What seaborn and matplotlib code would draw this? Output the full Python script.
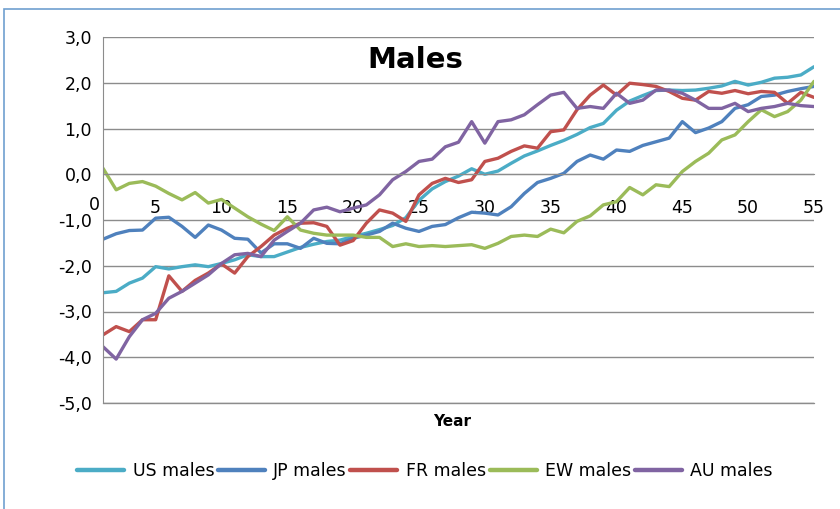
import numpy as np
import pandas as pd
import matplotlib
matplotlib.use("Agg")
import matplotlib.pyplot as plt
import seaborn as sns
from matplotlib.patches import Rectangle

# data
years = list(range(1, 56))
us_males = [-2.59, -2.56, -2.38, -2.27, -2.02, -2.07, -2.02, -1.98, -2.02, -1.95,
            -1.87, -1.76, -1.80, -1.80, -1.70, -1.60, -1.53, -1.47, -1.44, -1.36,
            -1.29, -1.21, -1.12, -0.95, -0.57, -0.32, -0.16, -0.04, 0.12, 0.00,
            0.07, 0.24, 0.40, 0.51, 0.63, 0.74, 0.87, 1.02, 1.11, 1.40,
            1.60, 1.72, 1.83, 1.84, 1.83, 1.84, 1.88, 1.93, 2.03, 1.95,
            2.01, 2.10, 2.12, 2.17, 2.35]
jp_males = [-1.42, -1.30, -1.23, -1.22, -0.96, -0.94, -1.14, -1.38, -1.11, -1.22,
            -1.40, -1.42, -1.72, -1.52, -1.52, -1.62, -1.40, -1.51, -1.52, -1.40,
            -1.33, -1.25, -1.07, -1.18, -1.25, -1.14, -1.10, -0.95, -0.83, -0.85,
            -0.89, -0.71, -0.42, -0.18, -0.09, 0.02, 0.28, 0.42, 0.33, 0.53,
            0.50, 0.63, 0.71, 0.79, 1.15, 0.91, 1.01, 1.15, 1.44, 1.52,
            1.70, 1.73, 1.81, 1.87, 1.92]
fr_males = [-3.51, -3.33, -3.44, -3.18, -3.18, -2.22, -2.56, -2.32, -2.16, -1.96,
            -2.16, -1.80, -1.58, -1.33, -1.18, -1.07, -1.06, -1.14, -1.55, -1.45,
            -1.07, -0.78, -0.85, -1.03, -0.45, -0.20, -0.09, -0.18, -0.12, 0.28,
            0.35, 0.50, 0.62, 0.57, 0.93, 0.97, 1.41, 1.73, 1.95, 1.73,
            1.99, 1.96, 1.92, 1.81, 1.66, 1.62, 1.81, 1.77, 1.83, 1.76,
            1.81, 1.79, 1.55, 1.79, 1.68]
ew_males = [0.13, -0.34, -0.20, -0.16, -0.26, -0.42, -0.56, -0.40, -0.63, -0.55,
            -0.74, -0.93, -1.09, -1.23, -0.93, -1.22, -1.29, -1.33, -1.33, -1.33,
            -1.38, -1.38, -1.58, -1.52, -1.58, -1.56, -1.58, -1.56, -1.54, -1.62,
            -1.51, -1.36, -1.33, -1.36, -1.20, -1.28, -1.03, -0.91, -0.67, -0.60,
            -0.29, -0.45, -0.23, -0.27, 0.06, 0.28, 0.46, 0.75, 0.86, 1.15,
            1.41, 1.26, 1.37, 1.62, 2.03]
au_males = [-3.77, -4.04, -3.55, -3.18, -3.04, -2.71, -2.56, -2.38, -2.20, -1.95,
            -1.76, -1.73, -1.80, -1.44, -1.25, -1.07, -0.78, -0.72, -0.82, -0.74,
            -0.67, -0.45, -0.12, 0.06, 0.28, 0.33, 0.60, 0.70, 1.15, 0.68,
            1.15, 1.19, 1.30, 1.52, 1.73, 1.79, 1.44, 1.48, 1.44, 1.77,
            1.55, 1.62, 1.84, 1.84, 1.77, 1.62, 1.44, 1.44, 1.55, 1.37,
            1.44, 1.48, 1.55, 1.50, 1.48]

series_names = ["US males", "JP males", "FR males", "EW males", "AU males"]
colors = ["#4BACC6", "#4F81BD", "#C0504D", "#9BBB59", "#8064A2"]
y_ticks = [3, 2, 1, 0, -1, -2, -3, -4, -5]
x_ticks = [5, 10, 15, 20, 25, 30, 35, 40, 45, 50, 55]

df = pd.DataFrame({"Year": years, "US males": us_males, "JP males": jp_males,
                   "FR males": fr_males, "EW males": ew_males, "AU males": au_males})
long_df = df.melt(id_vars="Year", var_name="series", value_name="value")

sns.set_style("white")
plt.rcParams["font.family"] = ["DejaVu Sans"]
plt.rcParams["text.color"] = "black"

fig = plt.figure(figsize=(8.4, 5.09), dpi=100)
ax = fig.add_axes([103 / 840, 1 - 403 / 509, 711 / 840, 366 / 509])

sns.lineplot(data=long_df, x="Year", y="value", hue="series", hue_order=series_names,
             palette=colors, linewidth=2.4, ax=ax, legend=True,
             solid_joinstyle="round", solid_capstyle="round")

ax.set_xlim(1, 55)
ax.set_ylim(-5, 3)
ax.set_yticks(y_ticks)
ax.set_yticklabels([f"{v:.1f}".replace(".", ",") for v in y_ticks])
ax.set_xticks(x_ticks)
ax.set_xticklabels([str(v) for v in x_ticks])
ax.yaxis.grid(True, color="#8C8C8C", linewidth=1)
ax.set_axisbelow(True)
# bottom gridline at -5 (the x spine sits at 0)
ax.axhline(-5, color="#8C8C8C", linewidth=1, clip_on=False, zorder=0.5)

for s in ["top", "right"]:
    ax.spines[s].set_visible(False)
ax.spines["bottom"].set_position(("data", 0))
ax.spines["bottom"].set_color("#8C8C8C")
ax.spines["left"].set_color("#8C8C8C")
ax.tick_params(axis="x", direction="out", length=6, width=1, color="#8C8C8C", pad=12,
               labelsize=12.5, labelcolor="black")
ax.tick_params(axis="y", direction="out", length=6, width=1, color="#8C8C8C", pad=2,
               labelsize=12.5, labelcolor="black")

# the "0" category label sits left of the first point
ax.annotate("0", xy=(0, 0), xycoords="data", xytext=(3, -15.5), textcoords="offset points",
            ha="center", va="top", fontsize=12.5, color="black", annotation_clip=False)

ax.set_xlabel("")
ax.set_ylabel("")
ax.text(0.439, 0.937, "Males", transform=ax.transAxes, ha="center", va="center",
        fontsize=21, fontweight="bold", color="black")
fig.text(452 / 840, 1 - 421 / 509, "Year", ha="center", va="center",
         fontsize=11, fontweight="bold", color="black")

handles, labels = ax.get_legend_handles_labels()
for h in handles:
    h.set_linewidth(3.2)
leg = ax.legend(handles, labels, loc="center", bbox_to_anchor=(425 / 840, 1 - 471 / 509),
                bbox_transform=fig.transFigure, ncol=5, frameon=False, fontsize=12.5,
                handlelength=2.7, handletextpad=0.5, columnspacing=0.2, borderpad=0)
for t in leg.get_texts():
    t.set_color("black")

fig.patches.append(Rectangle((4 / 840, -0.05), 1.0, 1 - 9 / 509 + 0.05,
                             transform=fig.transFigure, fill=False,
                             edgecolor="#6F9FD0", linewidth=1.2))

fig.savefig("out.png", dpi=100)
